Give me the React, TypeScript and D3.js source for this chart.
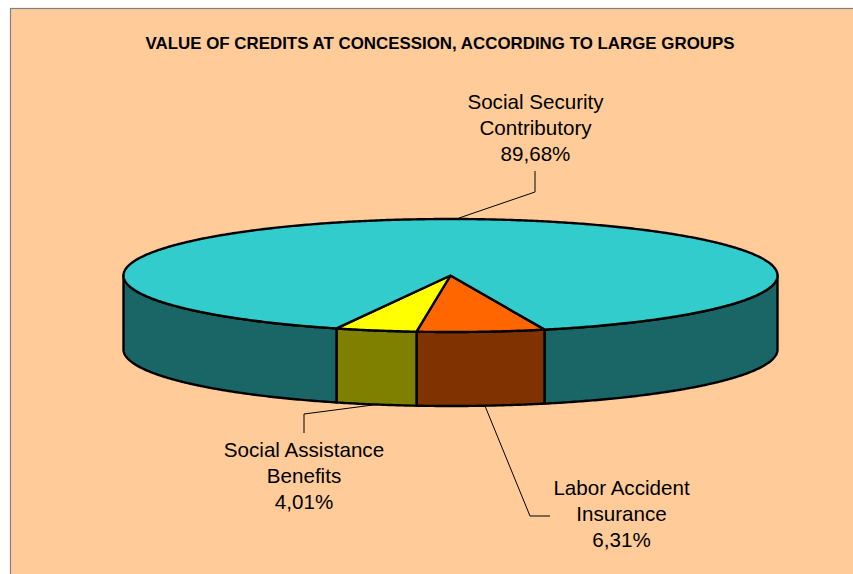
import React from "react";
import * as d3 from "d3";

const W = 853, H = 574;
const title = "VALUE OF CREDITS AT CONCESSION, ACCORDING TO LARGE GROUPS";
const categories = ["Labor Accident Insurance", "Social Assistance Benefits", "Social Security Contributory"];
const values = [6.31, 4.01, 89.68];
const topColors = ["#FF6600", "#FFFF00", "#33CCCC"];
const sideColors = ["#803300", "#808000", "#1A6666"];
const labelLines = [["Labor Accident", "Insurance", "6,31%"], ["Social Assistance", "Benefits", "4,01%"], ["Social Security", "Contributory", "89,68%"]];
const labelCenters = [[621.5, 495], [304, 457], [535.5, 109]];
const leaders = [
  [[485, 406], [530, 516], [550, 516]],
  [[373, 405], [304, 414], [304, 433]],
  [[459, 218], [535, 192], [535, 171]],
];

const cx = 450.5, cy = 275.5, rx = 327, ry = 56.5, depth = 74;
const deg = Math.PI / 180;
const pt = (a: number, dy = 0): [number, number] => [cx + rx * Math.sin(a), cy - ry * Math.cos(a) + dy];
const sample = (a0: number, a1: number, dy = 0) => {
  const n = Math.max(2, Math.ceil(Math.abs(a1 - a0) / (0.5 * deg)));
  return d3.range(n + 1).map(i => pt(a0 + ((a1 - a0) * i) / n, dy));
};
const line = d3.line();
const arcs = d3.pie<number>().sort(null).startAngle(163.25 * deg).endAngle((163.25 + 360) * deg)(values);

// front (visible) parts of a slice's outer wall: angles between 90° and 270° (mod 360°)
const frontParts = (a0: number, a1: number) => {
  const parts: [number, number][] = [];
  for (const [lo, hi] of [[90 * deg, 270 * deg], [450 * deg, 630 * deg]]) {
    const s = Math.max(a0, lo), e = Math.min(a1, hi);
    if (e > s) parts.push([s, e]);
  }
  return parts;
};

export default function App() {
  return (
    <svg width={W} height={H} style={{ position: "absolute", left: 0, top: 0, background: "#fff" }} fontFamily="'Liberation Sans', Arial, sans-serif">
      <rect x={10.5} y={8.5} width={W} height={H} fill="#FFCC99" stroke="#808080" strokeWidth={1.2} />
      <text x={440} y={49} textAnchor="middle" fontSize={16.9} fontWeight="bold" fill="#000">{title}</text>
      {arcs.map((d, i) =>
        frontParts(d.startAngle, d.endAngle).map(([s, e], j) => {
          const pts = [...sample(s, e, 0), ...sample(e, s, depth)];
          return <path key={`s${i}-${j}`} d={line(pts) + "Z"} fill={sideColors[i]} stroke="#000" strokeWidth={2.4} strokeLinejoin="round" />;
        })
      )}
      {arcs.map((d, i) => {
        const pts: [number, number][] = [[cx, cy], ...sample(d.startAngle, d.endAngle)];
        return <path key={categories[i]} d={line(pts) + "Z"} fill={topColors[i]} stroke="#000" strokeWidth={2.4} strokeLinejoin="round" />;
      })}
      {leaders.map((l, i) => (
        <path key={`l${i}`} d={line(l as [number, number][]) ?? ""} fill="none" stroke="#000" strokeWidth={1} />
      ))}
      {labelLines.map((ls, i) => (
        <text key={`t${i}`} textAnchor="middle" fontSize={20.6} fill="#000">
          {ls.map((t, k) => (
            <tspan key={k} x={labelCenters[i][0]} y={labelCenters[i][1] + k * 26}>{t}</tspan>
          ))}
        </text>
      ))}
    </svg>
  );
}
